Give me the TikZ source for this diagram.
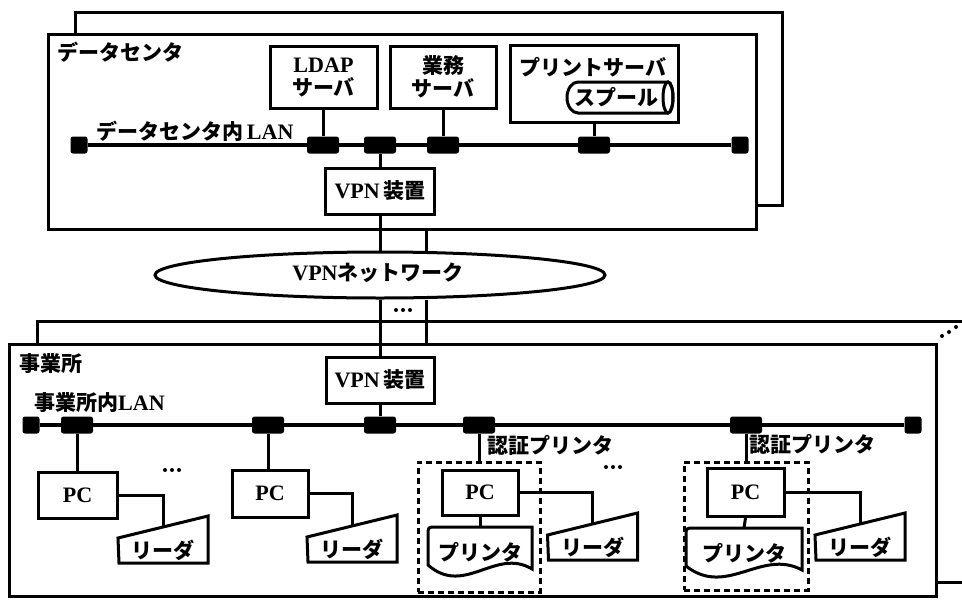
\documentclass[tikz,border=0pt]{standalone}
\usepackage{fontspec}
\setmainfont{Liberation Serif}[Scale=1.05]
\newfontfamily\jp{Noto Sans CJK JP}
\usetikzlibrary{shapes.geometric}
\tikzset{
  wire/.style={line width=3pt},
  txt/.style={font=\fontsize{21}{23}\selectfont\bfseries, inner sep=0pt},
  box/.style={draw, fill=white, line width=3pt, font=\fontsize{21}{23}\selectfont\bfseries, align=center, inner sep=0pt},
  tapbox/.style={fill=black, rounded corners=2.5pt, minimum width=32pt, minimum height=17pt, inner sep=0pt},
  termbox/.style={fill=black, rounded corners=2.5pt, minimum width=17pt, minimum height=17pt, inner sep=0pt},
  outerbox/.style={draw, line width=3pt, inner sep=0pt, anchor=north west},
  dashbox/.style={draw, dash pattern=on 6pt off 4pt, line width=3pt, inner sep=0pt},
  lanline/.style={line width=3.4pt},
  pics/readerpic/.style={code={
    \draw[fill=white, line width=3pt] (-45,-2) -- (45,-24) -- (45,23) -- (-44,23) -- cycle;
    \node[txt] (-t) at (0,10) {\jp リーダ};
    \coordinate (-top) at (0,-13);
  }},
  pics/printerpic/.style={code={
    \draw[fill=white, line width=3pt] (-#1,16) -- (-#1,-14) .. controls (-#1,-22) .. (-#1+8,-22) -- (#1,-22) -- (#1,20) .. controls (0.3*#1,-2) and (-0.3*#1,48) .. (-#1,16) -- cycle;
    \node[txt] (-t) at (0,3) {\jp プリンタ};
    \coordinate (-top) at (0,-22);
  }},
}
\begin{document}
\begin{tikzpicture}[x=1pt,y=-1pt]
\useasboundingbox (0,0) rectangle (962,603);

% ---------- data centre ----------
\draw[wire] (75,33) -- (75,12) -- (782,12) -- (782,205) -- (755,205);
\node[outerbox, minimum width=708pt, minimum height=195pt] (dc) at (47,33) {};
\node[txt, anchor=west] (dclabel) at (57,52) {\jp データセンタ};

\node[box, minimum width=107pt, minimum height=62pt] (ldap) at (323.5,77) {LDAP\\{\jp サーバ}};
\node[box, minimum width=106pt, minimum height=62pt] (gyomu) at (443,77) {{\jp 業務}\\{\jp サーバ}};
\node[box, minimum width=168pt, minimum height=77pt] (ps) at (594,83.5) {};
\node[txt] (pslabel) at (593,67) {\jp プリントサーバ};
\draw[wire, fill=white] (578,82) -- (668,82) arc[start angle=-90, end angle=90, x radius=5, y radius=15.5] -- (578,113) arc[start angle=90, end angle=270, x radius=11, y radius=15.5] -- cycle;
\draw[wire] (668,97.5) ellipse [x radius=5, y radius=15.5];
\node[txt] (spool) at (616,97) {\jp スプール};

\node[tapbox] (t1) at (323,145) {};
\node[tapbox] (t2) at (380,145) {};
\node[tapbox] (t3) at (443,145) {};
\node[tapbox] (t4) at (594,145) {};
\node[termbox] (e1) at (79,145) {};
\node[termbox] (e2) at (740,145) {};
\node[txt, anchor=west] (dclan) at (96,131) {{\jp データセンタ内}\,LAN};

\node[box, minimum width=109pt, minimum height=46pt] (vpn1) at (380,191) {VPN\,{\jp 装置}};

% ---------- VPN network ----------
\coordinate (bk1) at (426,228);
\node[draw, ellipse, line width=3pt, fill=white, minimum width=450pt, minimum height=46pt, inner sep=0pt] (net) at (380,275) {};
\node[txt] (netlabel) at (378,273) {VPN{\jp ネットワーク}};
\foreach \x in {396,403,410} \fill (\x,310) circle (2);

% ---------- office ----------
\draw[wire] (37,343) -- (37,321) -- (962,321);
\draw[wire] (935,582) -- (962,582);
\foreach \x/\y in {942/336,949/332,956/327} \fill (\x,\y) circle (2);
\node[outerbox, minimum width=927pt, minimum height=252pt] (office) at (8,343) {};
\node[txt, anchor=west] (oflabel) at (19,364) {\jp 事業所};
\node[txt, anchor=west] (oflan) at (34,403) {{\jp 事業所内}LAN};
\node[box, minimum width=108pt, minimum height=46pt] (vpn2) at (380,380) {VPN\,{\jp 装置}};

\node[tapbox] (o1) at (77,425) {};
\node[tapbox] (o2) at (268,425) {};
\node[tapbox] (o3) at (380,425) {};
\node[tapbox] (o4) at (479,425) {};
\node[tapbox] (o5) at (746,425) {};
\node[termbox] (f1) at (31,425) {};
\node[termbox] (f2) at (913,425) {};

\node[dashbox, minimum width=122pt, minimum height=130pt] (d1) at (479,527) {};
\node[dashbox, minimum width=124pt, minimum height=128pt] (d2) at (746,526) {};
\node[txt] (a1) at (550,445) {\jp 認証プリンタ};
\node[txt] (a2) at (812,444) {\jp 認証プリンタ};

\node[box, minimum width=79pt, minimum height=46pt] (pc1) at (77.5,495) {PC};
\node[box, minimum width=76pt, minimum height=47pt] (pc2) at (270,493.5) {PC};
\node[box, minimum width=76pt, minimum height=45pt] (pc3) at (480,492.5) {PC};
\node[box, minimum width=77pt, minimum height=48pt] (pc4) at (745.5,492.5) {PC};

\pic (p1) at (480,549) {printerpic=52};
\pic (p2) at (744,550) {printerpic=58};
\pic (r1) at (163,540) {readerpic};
\pic (r2) at (352,539) {readerpic};
\pic (r3) at (592.5,537) {readerpic};
\pic (r4) at (860,537) {readerpic};

\foreach \x in {165,172,179} \fill (\x,470) circle (2);
\foreach \x in {606,613,620} \fill (\x,467) circle (2);

% ---------- connectors ----------
\draw[lanline] (e1) -- (e2);
\draw[lanline] (f1) -- (f2);
\draw[wire] (ldap.south) -- (ldap.south |- t1.north);
\draw[wire] (gyomu.south) -- (gyomu.south |- t3.north);
\draw[wire] (ps.south) -- (ps.south |- t4.north);
\draw[wire] (t2.south) -- (vpn1.north);
\draw[wire] (vpn1.south) -- (net.north);
\draw[wire] (bk1) -- (bk1 |- net.north);
\draw[wire] (net.south) -- (vpn2.north);
\draw[wire] (net.south -| bk1) -- (bk1 |- office.north);
\draw[wire] (vpn2.south) -- (o3.north);
\draw[wire] (o1.south) -- (o1.south |- pc1.north);
\draw[wire] (o2.south) -- (o2.south |- pc2.north);
\draw[wire] (o4.south) -- (d1.north);
\draw[wire] (o5.south) -- (d2.north);
\draw[wire] (pc1.east) -| (r1-top);
\draw[wire] (pc2.east) -| (r2-top);
\draw[wire] (pc3.east) -| (r3-top);
\draw[wire] (pc4.east) -| (r4-top);
\draw[wire] (pc3.south) -- (p1-top);
\draw[wire] (pc4.south) -- (p2-top);
\end{tikzpicture}
\end{document}
